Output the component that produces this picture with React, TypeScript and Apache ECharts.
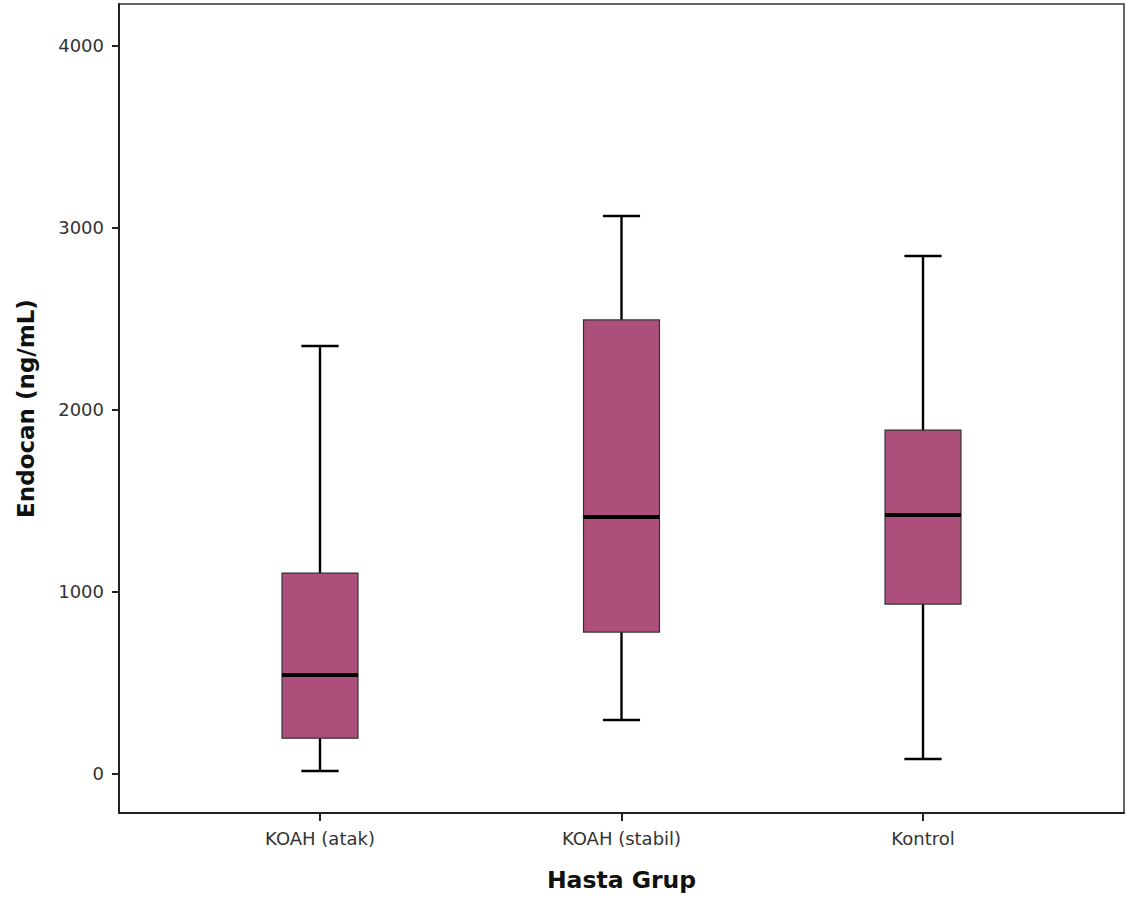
import React, { useEffect, useRef } from "react";
import * as echarts from "echarts";

const categories = ["KOAH (atak)", "KOAH (stabil)", "Kontrol"];
const whiskerLow = [13, 293, 79];
const q1 = [193, 776, 930];
const median = [540, 1408, 1419];
const q3 = [1100, 2491, 1886];
const whiskerHigh = [2348, 3062, 2842];
const yTicks = [0, 1000, 2000, 3000, 4000];
const xTicks = [0, 1, 2];

export default function App() {
  const ref = useRef<HTMLDivElement>(null);
  useEffect(() => {
    if (!ref.current) return;
    const chart = echarts.init(ref.current, null, { renderer: "svg" });
    const data = categories.map((_, i) => [i, whiskerLow[i], q1[i], median[i], q3[i], whiskerHigh[i]]);
    chart.setOption({
      animation: false,
      backgroundColor: "#ffffff",
      grid: { left: 119, top: 4, right: 3, bottom: 89, show: true, borderColor: "#666", borderWidth: 2, backgroundColor: "transparent" },
      xAxis: {
        type: "value",
        min: -2 / 3,
        max: 8 / 3,
        name: "Hasta Grup",
        nameLocation: "middle",
        nameGap: 55,
        nameTextStyle: { fontFamily: "DejaVu Sans", fontWeight: "bold", fontSize: 23.5, color: "#111" },
        axisLine: { show: true, onZero: false, lineStyle: { color: "#222", width: 2 } },
        axisTick: { show: true, inside: false, customValues: xTicks, length: 8, lineStyle: { color: "#222", width: 2 } },
        axisLabel: {
          customValues: xTicks,
          formatter: (v: number) => categories[Math.round(v)] ?? "",
          margin: 16,
          fontFamily: "DejaVu Sans",
          fontSize: 18,
          color: "#333",
        },
        splitLine: { show: false },
      },
      yAxis: {
        type: "value",
        min: -218,
        max: 4227,
        name: "Endocan (ng/mL)",
        nameLocation: "middle",
        nameGap: 82,
        nameTextStyle: { fontFamily: "DejaVu Sans", fontWeight: "bold", fontSize: 23, color: "#111" },
        axisLine: { show: true, onZero: false, lineStyle: { color: "#222", width: 2 } },
        axisTick: { show: true, inside: false, customValues: yTicks, length: 7, lineStyle: { color: "#222", width: 2 } },
        axisLabel: {
          customValues: yTicks,
          formatter: (v: number) => String(v),
          margin: 15,
          fontFamily: "DejaVu Sans",
          fontSize: 18,
          color: "#333",
        },
        splitLine: { show: false },
      },
      series: [
        {
          type: "custom",
          data,
          encode: { x: 0, y: [1, 2, 3, 4, 5] },
          renderItem: (params: any, api: any) => {
            const x = api.value(0);
            const pLow = api.coord([x, api.value(1)]);
            const pQ1 = api.coord([x, api.value(2)]);
            const pMed = api.coord([x, api.value(3)]);
            const pQ3 = api.coord([x, api.value(4)]);
            const pHigh = api.coord([x, api.value(5)]);
            const unit = api.size([1, 0])[0];
            const bw = unit * 0.252;
            const cw = bw * 0.49;
            const cx = pMed[0];
            const wl = { stroke: "#000", lineWidth: 2.4 };
            return {
              type: "group",
              children: [
                { type: "line", shape: { x1: cx, y1: pQ3[1], x2: cx, y2: pHigh[1] }, style: wl },
                { type: "line", shape: { x1: cx, y1: pQ1[1], x2: cx, y2: pLow[1] }, style: wl },
                { type: "line", shape: { x1: cx - cw / 2, y1: pHigh[1], x2: cx + cw / 2, y2: pHigh[1] }, style: wl },
                { type: "line", shape: { x1: cx - cw / 2, y1: pLow[1], x2: cx + cw / 2, y2: pLow[1] }, style: wl },
                {
                  type: "rect",
                  shape: { x: cx - bw / 2, y: pQ3[1], width: bw, height: pQ1[1] - pQ3[1] },
                  style: { fill: "#AD4F7B", stroke: "#333", lineWidth: 1.2 },
                },
                { type: "line", shape: { x1: cx - bw / 2, y1: pMed[1], x2: cx + bw / 2, y2: pMed[1] }, style: { stroke: "#000", lineWidth: 4 } },
              ],
            };
          },
        },
      ],
    });
    return () => chart.dispose();
  }, []);
  return <div ref={ref} style={{ position: "fixed", left: 0, top: 0, width: 1127, height: 902 }} />;
}
